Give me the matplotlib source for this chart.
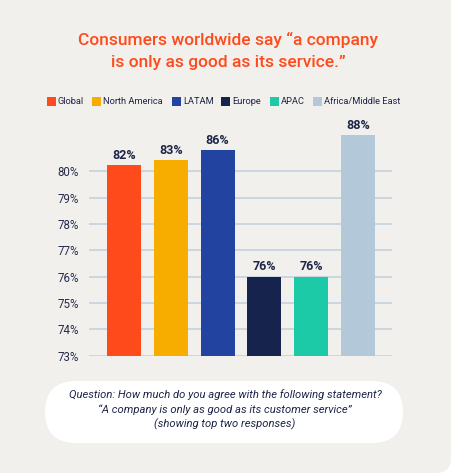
import matplotlib.pyplot as plt
from matplotlib.patches import FancyBboxPatch, Rectangle

plt.rcParams['font.family'] = ['Roboto', 'DejaVu Sans']

regions = ["Global", "North America", "LATAM", "Europe", "APAC", "Africa/Middle East"]
# bar heights as drawn on the axis, and the labels printed above them
heights = [80.24, 80.43, 80.81, 76.0, 76.0, 81.38]
labels = ["82%", "83%", "86%", "76%", "76%", "88%"]
colors = ["#ff4a1c", "#f7ac00", "#2243a0", "#16234d", "#1ccaa8", "#b3c8d8"]
yticks = [73, 74, 75, 76, 77, 78, 79, 80]

W, H = 457, 475
fig = plt.figure(figsize=(W / 100, H / 100), dpi=100)
fig.patch.set_facecolor("white")
inch = fig.dpi_scale_trans

def fx(px):
    return px / W

def fy(py):
    return 1 - py / H

# card background, drawn in inches (px / 100)
card = FancyBboxPatch((-0.4, (H - 473) / 100), 4.91, 5.5,
                      boxstyle="round,pad=0,rounding_size=0.15",
                      transform=inch, facecolor="#f1f0ec",
                      edgecolor="none", zorder=-10)
fig.patches.append(card)

navy = "#1d2548"

fig.text(0.5, fy(40), "Consumers worldwide say \u201ca company", ha="center", va="center",
         fontsize=12.5, color="#ff4a1c", fontweight="medium")
fig.text(0.5, fy(62), "is only as good as its service.\u201d", ha="center", va="center",
         fontsize=12.5, color="#ff4a1c", fontweight="medium")

# legend
leg_x = [47, 92, 172, 221, 270, 313]
for x, name, c in zip(leg_x, regions, colors):
    fig.patches.append(Rectangle((fx(x), fy(106)), fx(9), 9 / H,
                                 transform=fig.transFigure, facecolor=c,
                                 edgecolor="none", zorder=1))
    fig.text(fx(x + 11), fy(101.5), name, ha="left", va="center",
             fontsize=6.7, color=navy)

ax = fig.add_axes([fx(89), fy(355.7), fx(392 - 89), (355.7 - 131.8) / H])
ax.set_zorder(2)
ax.set_facecolor("none")
pos = list(range(len(regions)))
ax.bar(pos, [h - 73 for h in heights], bottom=73, width=0.726, color=colors, zorder=3)
for p, h, lab in zip(pos, heights, labels):
    ax.text(p, h + 0.13, lab, ha="center", va="bottom", fontsize=9,
            fontweight="bold", color=navy)

ax.set_xlim(-0.75, 5.73)
ax.set_ylim(73, 81.5)
ax.set_yticks(yticks)
ax.set_yticklabels([f"{t}%" for t in yticks], fontsize=8.3, color="#262b4d")
ax.set_xticks([])
ax.tick_params(axis="y", length=0, pad=7.5)
for t in yticks:
    ax.axhline(t, color="#c3d2df", linewidth=1.2, zorder=1)
for s in ax.spines.values():
    s.set_visible(False)

# question box (pill shape)
box = FancyBboxPatch((0.45, (H - 443) / 100), 3.58, 0.62,
                     boxstyle="round,pad=0,rounding_size=0.31",
                     transform=inch, facecolor="white",
                     edgecolor="none", zorder=1)
fig.patches.append(box)
qlines = ["Question: How much do you agree with the following statement?",
          "\u201cA company is only as good as its customer service\u201d",
          "(showing top two responses)"]
for i, line in enumerate(qlines):
    fig.text(fx(225), fy(395 + 14.5 * i), line, ha="center", va="center",
             fontsize=8.1, style="italic", color=navy, zorder=3)

fig.savefig("out.png", dpi=100, facecolor=fig.get_facecolor())
